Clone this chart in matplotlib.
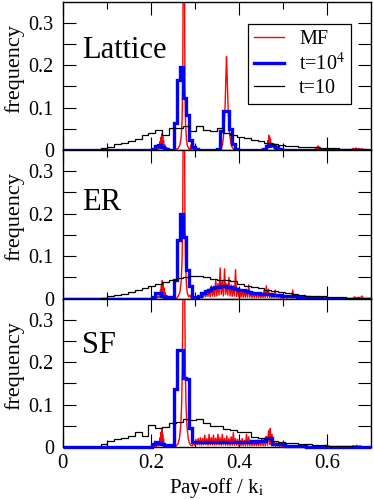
import numpy as np
import matplotlib
matplotlib.use("Agg")
import matplotlib.pyplot as plt
from matplotlib.ticker import FixedLocator

plt.rcParams['font.family'] = ['Liberation Serif', 'DejaVu Serif']
plt.rcParams['mathtext.fontset'] = 'stix'

# ---------------- data ----------------
panel_names = ["Lattice", "ER", "SF"]
series_labels = ["MF", "t=10$^4$", "t=10"]
x_ticks = [0.0, 0.2, 0.4, 0.6]
x_tick_labels = ["0", "0.2", "0.4", "0.6"]
y_ticks = [0.0, 0.1, 0.2, 0.3]
y_tick_labels = ["0", "0.1", "0.2", "0.3"]

# t=10^4 histogram (bin width 0.007 from 0 to 0.7)
blue_bin_width = 0.007
lat_blue = [0.0] * 29 + [0.002, 0.010, 0.012, 0.008, 0.002, 0.0, 0.001,
                         0.063, 0.164, 0.195, 0.122, 0.082, 0.023, 0.006, 0.003, 0.001,
                         0.0, 0.0, 0.0, 0.0, 0.0,
                         0.003, 0.045, 0.093, 0.093, 0.050, 0.015, 0.002,
                         0.0, 0.0, 0.0, 0.0, 0.0, 0.0, 0.0, 0.0,
                         0.003, 0.010, 0.013, 0.012, 0.006, 0.002] + [0.0] * 29
er_blue = [0.0] * 29 + [0.004, 0.013, 0.013, 0.007, 0.003, 0.002, 0.004,
                        0.043, 0.138, 0.200, 0.146, 0.066, 0.030, 0.004, 0.003,
                        0.007, 0.012, 0.017, 0.021, 0.024, 0.026, 0.028, 0.029, 0.029, 0.028,
                        0.027, 0.025, 0.023, 0.021, 0.019, 0.017, 0.015, 0.014, 0.013, 0.012,
                        0.011, 0.011, 0.010, 0.010, 0.009, 0.008, 0.008, 0.007, 0.006, 0.006,
                        0.005, 0.005, 0.004, 0.004, 0.003, 0.003, 0.002, 0.002, 0.001, 0.001] + [0.0] * 16
sf_blue = [0.0] * 29 + [0.006, 0.012, 0.010, 0.007, 0.004, 0.004, 0.005,
                        0.137, 0.228, 0.228, 0.162, 0.160, 0.045, 0.012,
                        0.011, 0.011, 0.011, 0.012, 0.011, 0.011, 0.011, 0.011, 0.012, 0.011,
                        0.011, 0.011, 0.011, 0.011, 0.012, 0.012, 0.012, 0.012, 0.013, 0.012,
                        0.014, 0.014, 0.014, 0.022, 0.022, 0.006, 0.006, 0.006, 0.006, 0.003,
                        0.003, 0.003, 0.003, 0.003, 0.003, 0.003, 0.001, 0.001, 0.001, 0.001,
                        0.001, 0.001] + [0.0] * 15

# t=10 histogram (bins of width 0.0155 starting at 0.0085)
black_start = 0.0085
black_bin_width = 0.0155
lat_black = [0, 0, 0, 0, 0, 0.004, 0.008, 0.013, 0.017, 0.021, 0.025, 0.035, 0.039, 0.047, 0.035,
             0.051, 0.053, 0.056, 0.045, 0.056, 0.048, 0.044, 0.052, 0.040, 0.036, 0.031, 0.029,
             0.024, 0.021, 0.017, 0.014, 0.012, 0.010, 0.009, 0.008, 0.007, 0.006, 0.005, 0.004,
             0.004, 0.003, 0.003, 0.002, 0.002, 0.001]
er_black = [0, 0, 0, 0, 0, 0.002, 0.005, 0.008, 0.011, 0.015, 0.019, 0.024, 0.030, 0.034, 0.038,
            0.043, 0.049, 0.050, 0.053, 0.053, 0.050, 0.047, 0.044, 0.043, 0.041, 0.033, 0.030,
            0.027, 0.024, 0.020, 0.017, 0.015, 0.012, 0.010, 0.008, 0.007, 0.006, 0.005, 0.004,
            0.003, 0.003, 0.002, 0.002, 0.001, 0.001]
sf_black = [0, 0, 0, 0, 0, 0.008, 0.013, 0.018, 0.022, 0.026, 0.036, 0.025, 0.053, 0.044, 0.048,
            0.057, 0.059, 0.067, 0.063, 0.066, 0.056, 0.049, 0.049, 0.042, 0.040, 0.036, 0.036,
            0.024, 0.022, 0.020, 0.015, 0.012, 0.010, 0.009, 0.008, 0.006, 0.005, 0.004, 0.003,
            0.003, 0.002, 0.002, 0.001, 0.001, 0.001]

# MF (fine resolution) points (x, freq)
lat_red = [(0.0, 0), (0.210, 0), (0.214, 0.004), (0.216, 0.001), (0.218, 0.012), (0.220, 0.003),
           (0.221, 0.020), (0.222, 0.006), (0.223, 0.030), (0.224, 0.010), (0.225, 0.038),
           (0.226, 0.008), (0.227, 0.032), (0.228, 0.006), (0.229, 0.022), (0.230, 0.004),
           (0.232, 0.012), (0.234, 0.002), (0.236, 0.006), (0.240, 0),
           (0.255, 0), (0.262, 0.004), (0.266, 0.012), (0.269, 0.030), (0.271, 0.070),
           (0.2725, 0.16), (0.2735, 0.40), (0.2765, 0.40), (0.2775, 0.16), (0.279, 0.060),
           (0.281, 0.025), (0.283, 0.010), (0.286, 0.004), (0.289, 0.001), (0.291, 0.012),
           (0.293, 0.002), (0.295, 0.010), (0.297, 0.002), (0.300, 0.004), (0.305, 0),
           (0.355, 0), (0.360, 0.004), (0.363, 0.012), (0.365, 0.030), (0.367, 0.060),
           (0.369, 0.110), (0.3705, 0.170), (0.372, 0.220), (0.3735, 0.170), (0.375, 0.120),
           (0.3765, 0.080), (0.378, 0.050), (0.380, 0.030), (0.382, 0.015), (0.385, 0.006), (0.390, 0),
           (0.458, 0), (0.462, 0.004), (0.464, 0.012), (0.465, 0.004), (0.466, 0.022), (0.467, 0.008),
           (0.468, 0.035), (0.469, 0.010), (0.470, 0.030), (0.471, 0.008), (0.472, 0.025),
           (0.473, 0.006), (0.475, 0.014), (0.478, 0.006), (0.482, 0.002), (0.488, 0),
           (0.572, 0), (0.576, 0.006), (0.578, 0.001), (0.580, 0.010), (0.582, 0.002), (0.584, 0.007), (0.588, 0),
           (0.655, 0), (0.660, 0.004), (0.662, 0.001), (0.666, 0.005), (0.668, 0.001), (0.672, 0.004),
           (0.676, 0.001), (0.680, 0.003), (0.685, 0), (0.700, 0)]

er_red = [(0.0, 0), (0.212, 0), (0.216, 0.005), (0.218, 0.002), (0.220, 0.012), (0.221, 0.004),
          (0.222, 0.020), (0.223, 0.006), (0.224, 0.030), (0.225, 0.010), (0.226, 0.042),
          (0.227, 0.012), (0.228, 0.035), (0.229, 0.008), (0.230, 0.025), (0.231, 0.005),
          (0.233, 0.014), (0.235, 0.003), (0.237, 0.007), (0.240, 0.001), (0.245, 0.002), (0.250, 0),
          (0.258, 0), (0.262, 0.005), (0.266, 0.015), (0.269, 0.040), (0.271, 0.090), (0.2725, 0.20),
          (0.2735, 0.42), (0.2765, 0.42), (0.2775, 0.20), (0.279, 0.080), (0.281, 0.030), (0.283, 0.012),
          (0.286, 0.004), (0.289, 0.008), (0.291, 0.002), (0.294, 0.004), (0.298, 0.001), (0.305, 0.002),
          (0.310, 0.001), (0.3125, 0.006), (0.315, 0.002), (0.3175, 0.010), (0.320, 0.003), (0.3225, 0.014),
          (0.325, 0.004), (0.3275, 0.018), (0.330, 0.005), (0.3325, 0.022), (0.335, 0.004), (0.3375, 0.030),
          (0.340, 0.006), (0.3425, 0.026), (0.345, 0.005), (0.3475, 0.045), (0.350, 0.006), (0.3525, 0.035),
          (0.355, 0.008), (0.3575, 0.072), (0.360, 0.010), (0.3625, 0.040), (0.365, 0.006), (0.3675, 0.070),
          (0.370, 0.010), (0.3725, 0.035), (0.375, 0.008), (0.3775, 0.050), (0.380, 0.006), (0.3825, 0.032),
          (0.385, 0.005), (0.3875, 0.030), (0.390, 0.006), (0.3925, 0.068), (0.395, 0.005), (0.3975, 0.025),
          (0.400, 0.004), (0.4025, 0.022), (0.405, 0.003), (0.4075, 0.020), (0.410, 0.003), (0.4125, 0.018),
          (0.415, 0.003), (0.4175, 0.020), (0.420, 0.003), (0.4225, 0.032), (0.425, 0.003), (0.4275, 0.016),
          (0.430, 0.002), (0.4325, 0.015), (0.435, 0.002), (0.4375, 0.014), (0.440, 0.002), (0.4425, 0.013),
          (0.445, 0.002), (0.4475, 0.012), (0.450, 0.002), (0.4525, 0.012), (0.455, 0.002), (0.4575, 0.020),
          (0.460, 0.002), (0.4625, 0.030), (0.465, 0.003), (0.4675, 0.022), (0.470, 0.002), (0.4725, 0.012),
          (0.475, 0.002), (0.4775, 0.010), (0.480, 0.002), (0.4825, 0.020), (0.485, 0.002), (0.4875, 0.009),
          (0.490, 0.001), (0.4925, 0.008), (0.495, 0.001), (0.4975, 0.007), (0.500, 0.001), (0.505, 0.006),
          (0.510, 0.001), (0.515, 0.006), (0.520, 0.001), (0.5225, 0.020), (0.525, 0.001), (0.530, 0.005),
          (0.535, 0.001), (0.540, 0.004), (0.545, 0.001), (0.550, 0.003), (0.560, 0), (0.580, 0),
          (0.582, 0.005), (0.585, 0.001), (0.590, 0.004), (0.595, 0.001), (0.600, 0.005), (0.605, 0),
          (0.660, 0), (0.663, 0.004), (0.667, 0.001), (0.672, 0.003), (0.676, 0.001), (0.680, 0.006),
          (0.683, 0), (0.700, 0)]

sf_red = [(0.0, 0), (0.205, 0), (0.208, 0.003), (0.212, 0.001), (0.215, 0.006), (0.217, 0.002),
          (0.219, 0.012), (0.220, 0.004), (0.221, 0.022), (0.222, 0.008), (0.223, 0.035), (0.224, 0.012),
          (0.225, 0.044), (0.226, 0.015), (0.227, 0.030), (0.228, 0.008), (0.229, 0.018), (0.230, 0.004),
          (0.232, 0.008), (0.235, 0.002), (0.240, 0.003), (0.245, 0.001), (0.250, 0.002), (0.255, 0.001),
          (0.258, 0.003), (0.262, 0.008), (0.265, 0.020), (0.268, 0.050), (0.270, 0.100), (0.2715, 0.18),
          (0.2725, 0.30), (0.2735, 0.42), (0.2765, 0.42), (0.2775, 0.30), (0.2785, 0.18), (0.280, 0.100),
          (0.282, 0.050), (0.285, 0.020), (0.288, 0.008), (0.291, 0.004), (0.294, 0.003),
          (0.295, 0.003), (0.2975, 0.012), (0.300, 0.004), (0.3025, 0.018), (0.305, 0.005), (0.3075, 0.020),
          (0.310, 0.005), (0.3125, 0.022), (0.315, 0.004), (0.3175, 0.020), (0.320, 0.005), (0.3225, 0.028),
          (0.325, 0.005), (0.3275, 0.020), (0.330, 0.004), (0.3325, 0.030), (0.335, 0.005), (0.3375, 0.022),
          (0.340, 0.005), (0.3425, 0.028), (0.345, 0.004), (0.3475, 0.021), (0.350, 0.005), (0.3525, 0.030),
          (0.355, 0.005), (0.3575, 0.022), (0.360, 0.004), (0.3625, 0.030), (0.365, 0.005), (0.3675, 0.020),
          (0.370, 0.004), (0.3725, 0.026), (0.375, 0.004), (0.3775, 0.020), (0.380, 0.004), (0.3825, 0.024),
          (0.385, 0.004), (0.3875, 0.034), (0.390, 0.004), (0.3925, 0.020), (0.395, 0.004), (0.3975, 0.018),
          (0.400, 0.003), (0.4025, 0.016), (0.405, 0.003), (0.4075, 0.020), (0.410, 0.003), (0.4125, 0.016),
          (0.415, 0.003), (0.4175, 0.030), (0.420, 0.003), (0.4225, 0.024), (0.425, 0.003), (0.4275, 0.016),
          (0.430, 0.003), (0.4325, 0.015), (0.435, 0.003), (0.4375, 0.014), (0.440, 0.003), (0.4425, 0.016),
          (0.445, 0.003), (0.4475, 0.015), (0.450, 0.003), (0.4525, 0.020), (0.455, 0.003), (0.4575, 0.018),
          (0.460, 0.003), (0.4625, 0.025), (0.465, 0.004), (0.4675, 0.038), (0.470, 0.006), (0.4715, 0.044),
          (0.473, 0.006), (0.4755, 0.030), (0.478, 0.003), (0.4805, 0.012), (0.483, 0.002), (0.4855, 0.010),
          (0.488, 0.002), (0.4905, 0.008), (0.493, 0.001), (0.4955, 0.007), (0.498, 0.001), (0.502, 0.005),
          (0.506, 0.001), (0.510, 0.004), (0.515, 0.001), (0.520, 0.003), (0.530, 0.001), (0.540, 0.002),
          (0.550, 0), (0.595, 0), (0.598, 0.004), (0.601, 0.001), (0.604, 0.003), (0.608, 0),
          (0.655, 0), (0.660, 0.003), (0.664, 0.001), (0.668, 0.004), (0.672, 0.001), (0.676, 0.003),
          (0.680, 0), (0.700, 0)]

red_data = [lat_red, er_red, sf_red]
blue_data = [lat_blue, er_blue, sf_blue]
black_data = [lat_black, er_black, sf_black]

# ---------------- figure ----------------
fig = plt.figure(figsize=(3.74, 5.0), dpi=100)
left, width, height = 0.168, 0.8235, 0.297
bottoms = [0.700, 0.403, 0.106]
text_y = [0.62, 0.595, 0.633]

for i in range(3):
    ax = fig.add_axes([left, bottoms[i], width, height])
    rx = [p[0] for p in red_data[i]]
    ry = [p[1] for p in red_data[i]]
    bh = np.array(blue_data[i])
    b_edges = np.arange(len(bh) + 1) * blue_bin_width
    kh = np.array([0.0] + list(black_data[i]))
    k_edges = np.concatenate([[0.0], black_start + np.arange(len(black_data[i]) + 1) * black_bin_width])

    ax.plot(rx, ry, color='#ff0000', lw=1.0, label=series_labels[0], zorder=2)
    ax.stairs(bh, b_edges, color='#0000ff', lw=2.4, label=series_labels[1], zorder=3, clip_on=False)
    ax.stairs(kh, k_edges, color='black', lw=0.9, label=series_labels[2], zorder=4)

    ax.set_xlim(0, 0.7)
    ax.set_ylim(0, 0.35)
    ax.xaxis.set_major_locator(FixedLocator(x_ticks))
    ax.xaxis.set_minor_locator(FixedLocator([0.1, 0.3, 0.5]))
    ax.yaxis.set_major_locator(FixedLocator(y_ticks))
    ax.yaxis.set_minor_locator(FixedLocator([0.05, 0.15, 0.25]))
    ax.set_yticklabels(y_tick_labels, fontsize=14.5)
    if i == 2:
        ax.set_xticklabels(x_tick_labels, fontsize=15)
        ax.set_xlabel("Pay-off / k$_\\mathrm{i}$", fontsize=15, labelpad=2)
    else:
        ax.set_xticklabels([])
    ax.tick_params(which='both', direction='in', top=True, right=True, width=0.8)
    ax.tick_params(axis='x', which='major', length=9.5, pad=5)
    ax.tick_params(axis='x', which='minor', length=5)
    ax.tick_params(axis='y', which='both', length=9.5, pad=6.5)
    for s in ax.spines.values():
        s.set_linewidth(1.0)
    ax.set_ylabel("frequency", fontsize=16)
    ax.yaxis.set_label_coords(-0.125, 0.55)
    ax.text(0.062, text_y[i], panel_names[i], transform=ax.transAxes, fontsize=22, va='baseline')

    if i == 0:
        leg = ax.legend(loc='upper left', bbox_to_anchor=(0.6006, 0.8485), borderaxespad=0,
                        fontsize=14.5, handlelength=1.5, handletextpad=0.75, labelspacing=0.2,
                        borderpad=0.3, fancybox=False, framealpha=1, edgecolor='black')
        leg.get_frame().set_linewidth(0.9)

fig.savefig("out.png", dpi=100)
